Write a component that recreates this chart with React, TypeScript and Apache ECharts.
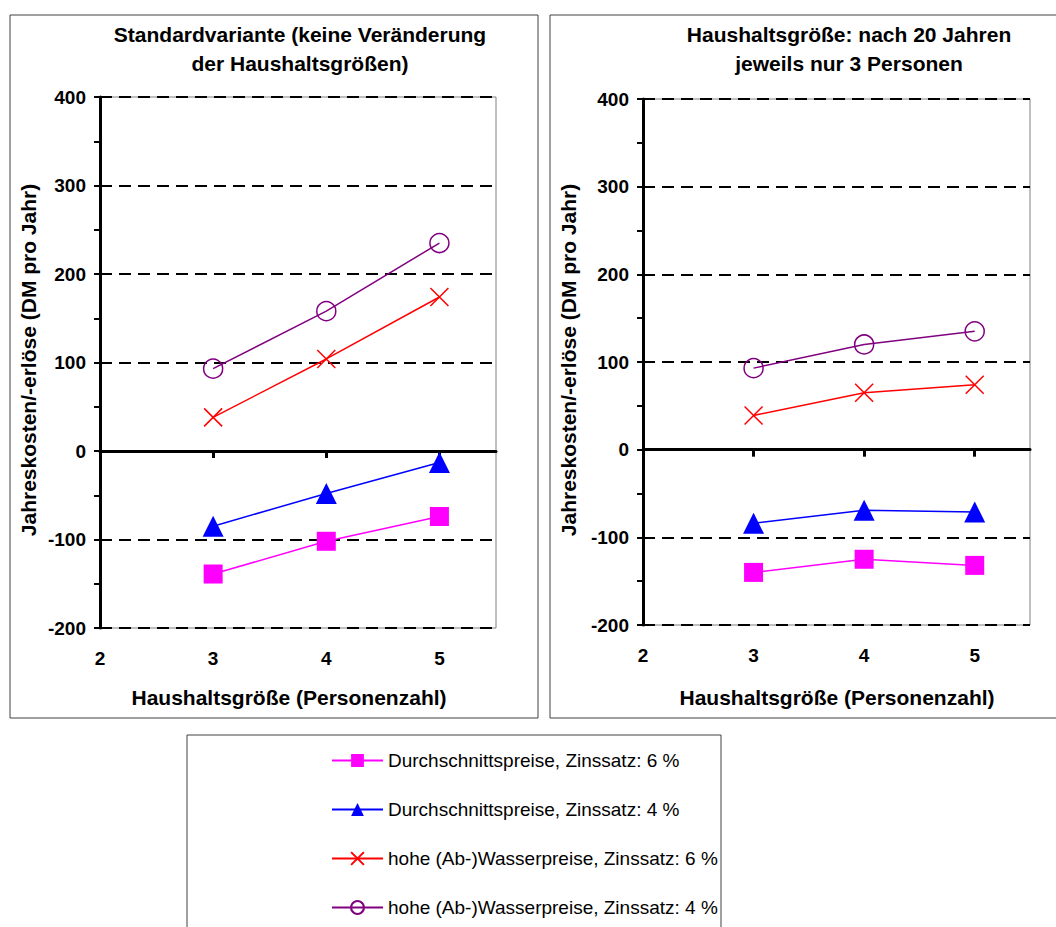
import React, { useEffect, useRef } from "react";
import * as echarts from "echarts";

const PERSONS = [3, 4, 5];
const X_TICK_LABELS = [2, 3, 4, 5];
const SERIES_NAMES = [
  "Durchschnittspreise, Zinssatz: 6 %",
  "Durchschnittspreise, Zinssatz: 4 %",
  "hohe (Ab-)Wasserpreise, Zinssatz: 6 %",
  "hohe (Ab-)Wasserpreise, Zinssatz: 4 %",
];
// Left chart: Standardvariante
const LEFT_AVG_6 = [-139, -102, -74];
const LEFT_AVG_4 = [-85, -48, -13];
const LEFT_HIGH_6 = [38, 104, 174];
const LEFT_HIGH_4 = [93, 158, 235];
// Right chart: nach 20 Jahren jeweils nur 3 Personen
const RIGHT_AVG_6 = [-140, -125, -132];
const RIGHT_AVG_4 = [-84, -69, -71];
const RIGHT_HIGH_6 = [39, 65, 74];
const RIGHT_HIGH_4 = [93, 120, 135];

const TITLE_LEFT = ["Standardvariante (keine Veränderung", "der Haushaltsgrößen)"];
const TITLE_RIGHT = ["Haushaltsgröße: nach 20 Jahren", "jeweils nur 3 Personen"];
const X_NAME = "Haushaltsgröße (Personenzahl)";
const Y_NAME = "Jahreskosten/-erlöse (DM pro Jahr)";

const FONT = "'Liberation Sans', Arial, sans-serif";
const COLORS = ["#FF00FF", "#0000FF", "#FF0000", "#800080"];
const CROSS = "path://M0,0L10,10M10,0L0,10";

function pairs(vals: number[]) {
  return PERSONS.map((p, i) => [p, vals[i]]);
}

function makeSeries(gridIdx: number, vals: number[][]) {
  const xIdx = gridIdx * 2;
  const yIdx = gridIdx;
  const sym = [
    { symbol: "rect", symbolSize: 19, itemStyle: { color: COLORS[0] } },
    { symbol: "triangle", symbolSize: 21, itemStyle: { color: COLORS[1] } },
    {
      symbol: CROSS,
      symbolSize: 18,
      itemStyle: { color: COLORS[2], borderColor: COLORS[2], borderWidth: 1.5 },
    },
    {
      symbol: "circle",
      symbolSize: 19,
      itemStyle: { color: "rgba(255,255,255,0)", borderColor: COLORS[3], borderWidth: 1.5 },
    },
  ];
  return vals.map((v, i) => ({
    type: "line",
    name: SERIES_NAMES[i],
    xAxisIndex: xIdx,
    yAxisIndex: yIdx,
    data: pairs(v as number[]),
    ...sym[i],
    lineStyle: { color: COLORS[i], width: 1.5 },
    z: 5,
  }));
}

function yAxis(gridIndex: number) {
  return {
    type: "value",
    gridIndex,
    min: -200,
    max: 400,
    interval: 100,
    axisLine: { show: true, onZero: false, lineStyle: { color: "#000", width: 3 } },
    axisTick: { show: true, length: 6, lineStyle: { color: "#000", width: 2 } },
    minorTick: { show: true, splitNumber: 2, length: 6, lineStyle: { color: "#000", width: 2 } },
    axisLabel: {
      color: "#000",
      fontFamily: FONT,
      fontWeight: "bold",
      fontSize: 19,
      margin: 14,
    },
    splitLine: { show: true, lineStyle: { color: "#000", width: 2, type: [12, 7] } },
  };
}

function xAxes(gridIndex: number) {
  return [
    {
      type: "value",
      gridIndex,
      position: "bottom",
      min: 2,
      max: 5.5,
      interval: 1,
      axisLine: { show: false, onZero: false },
      axisTick: { show: false },
      splitLine: { show: false },
      axisLabel: {
        customValues: X_TICK_LABELS,
        color: "#000",
        fontFamily: FONT,
        fontWeight: "bold",
        fontSize: 19,
        margin: 21,
      },
    },
    {
      type: "value",
      gridIndex,
      position: "top",
      min: 2,
      max: 5.5,
      interval: 1,
      axisLine: { show: true, onZero: true, lineStyle: { color: "#000", width: 3 } },
      axisTick: {
        show: true,
        inside: true,
        length: 7,
        customValues: PERSONS,
        lineStyle: { color: "#000", width: 3 },
      },
      axisLabel: { show: false },
      splitLine: { show: false },
    },
  ];
}

const boldText = (text: string) => ({
  text,
  align: "center",
  verticalAlign: "middle",
  fontFamily: FONT,
  fontWeight: "bold",
  fontSize: 21,
  fill: "#000",
});

function titleTexts(lines: string[], cx: number) {
  return lines.map((t, i) => ({
    type: "text",
    x: cx,
    y: 34 + i * 29,
    style: boldText(t),
  }));
}

export default function App() {
  const ref = useRef<HTMLDivElement>(null);
  useEffect(() => {
    if (!ref.current) return;
    const chart = echarts.init(ref.current, undefined, { renderer: "svg" });
    const option = {
      animation: false,
      backgroundColor: "#fff",
      grid: [
        { left: 100, top: 97, width: 396, height: 531, show: true, borderColor: "#808080", borderWidth: 1 },
        { left: 643, top: 99, width: 387, height: 526, show: true, borderColor: "#808080", borderWidth: 1 },
      ],
      xAxis: [...xAxes(0), ...xAxes(1)],
      yAxis: [yAxis(0), yAxis(1)],
      legend: {
        orient: "vertical",
        left: 326,
        top: 746,
        height: 200,
        itemWidth: 51,
        itemHeight: 16,
        itemGap: 30,
        data: SERIES_NAMES,
        textStyle: { fontFamily: FONT, fontSize: 19, color: "#000" },
      },
      series: [
        ...makeSeries(0, [LEFT_AVG_6, LEFT_AVG_4, LEFT_HIGH_6, LEFT_HIGH_4]),
        ...makeSeries(1, [RIGHT_AVG_6, RIGHT_AVG_4, RIGHT_HIGH_6, RIGHT_HIGH_4]),
      ],
      graphic: [
        { type: "rect", shape: { x: 10, y: 15, width: 528, height: 703 }, style: { fill: "none", stroke: "#404040", lineWidth: 1 }, z: -1 },
        { type: "rect", shape: { x: 550, y: 15, width: 520, height: 703 }, style: { fill: "none", stroke: "#404040", lineWidth: 1 }, z: -1 },
        { type: "rect", shape: { x: 187, y: 735, width: 534, height: 220 }, style: { fill: "none", stroke: "#404040", lineWidth: 1 }, z: -1 },
        ...titleTexts(TITLE_LEFT, 300),
        ...titleTexts(TITLE_RIGHT, 849),
        { type: "text", x: 289, y: 697, style: boldText(X_NAME) },
        { type: "text", x: 837, y: 697, style: boldText(X_NAME) },
        { type: "text", x: 28, y: 360, rotation: Math.PI / 2, style: boldText(Y_NAME) },
        { type: "text", x: 568, y: 360, rotation: Math.PI / 2, style: boldText(Y_NAME) },
      ],
    };
    chart.setOption(option as any);
    return () => chart.dispose();
  }, []);
  return (
    <div
      ref={ref}
      style={{ position: "fixed", left: 0, top: 0, width: 1056, height: 927, background: "#fff" }}
    />
  );
}
